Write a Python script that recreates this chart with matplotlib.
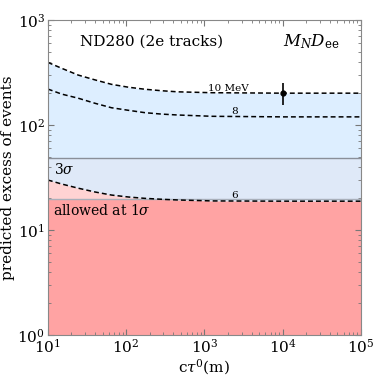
import numpy as np
import matplotlib.pyplot as plt

plt.rcParams['font.family'] = 'DejaVu Serif'
plt.rcParams['mathtext.fontset'] = 'dejavuserif'

# c tau^0 in m
ctau = [10, 15, 24.4, 40, 65, 107, 174, 284, 457, 1260, 1e4, 1e5]
# predicted excess for M_N = 10, 8, 6 MeV
n10 = [395, 347, 299, 269, 244, 229, 219, 212, 207, 203, 201, 201]
n8 = [220, 197, 180, 161, 146, 138, 131, 127, 124.5, 121, 119.5, 119.5]
n6 = [29.9, 27.4, 25, 23, 21.5, 20.6, 20, 19.6, 19.3, 18.9, 18.8, 18.8]

sig1 = 19.8
sig3 = 48.5

# data point with error
pt_x = 1e4
pt_y = 200
pt_lo = 155
pt_hi = 250

fig = plt.figure(figsize=(3.74, 3.78), dpi=100)
ax = fig.add_axes([0.128, 0.114, 0.837, 0.833])

x = np.array(ctau)
c10 = np.array(n10)
c8 = np.array(n8)
c6 = np.array(n6)

ax.fill_between(x, c6, c10, color='#ddeeff', lw=0)
ax.fill_between(x, c6, sig3, color='#dfe9f8', lw=0)
ax.fill_between(x, 1, np.minimum(c6, sig1), color='#ffa3a3', lw=0)
ax.fill_between(x, sig1, c6, where=c6 > sig1, color='#ffd3d3', lw=0, interpolate=True)

ax.axhline(sig3, color='#8a8f99', lw=1)
ax.axhline(sig1, color='#a9b0bb', lw=1)

for c in (c10, c8, c6):
    ax.plot(x, c, color='k', ls=(0, (3.2, 2)), lw=1.1)

ax.errorbar([pt_x], [pt_y], yerr=[[pt_y - pt_lo], [pt_hi - pt_y]], fmt='o',
            color='k', ms=3.5, lw=1.2, capsize=0)

ax.text(2000, 203, '10 MeV', fontsize=7.5, ha='center', va='bottom')
ax.text(2450, 121, '8', fontsize=7.5, ha='center', va='bottom')
ax.text(2450, 19.3, '6', fontsize=7.5, ha='center', va='bottom')
ax.text(12, 44, r'$3\sigma$', fontsize=10, ha='left', va='top')
ax.text(11.5, 18.2, r'allowed at $1\sigma$', fontsize=10, ha='left', va='top')
ax.text(0.33, 0.93, 'ND280 (2e tracks)', transform=ax.transAxes, fontsize=11,
        ha='center', va='center')
ax.text(0.84, 0.93, r'$M_N D_{\rm ee}$', transform=ax.transAxes, fontsize=12,
        ha='center', va='center')

ax.set_xscale('log')
ax.set_yscale('log')
ax.set_xlim(10, 1e5)
ax.set_ylim(1, 1000)
ax.set_xlabel(r'c$\tau^0$(m)', fontsize=11, labelpad=1)
ax.set_ylabel('predicted excess of events', fontsize=11, labelpad=2)
ax.tick_params(which='both', direction='in', top=True, right=True, color='#777777')
ax.tick_params(which='major', length=4, labelsize=11, pad=2)
ax.tick_params(which='minor', length=2)
for s in ax.spines.values():
    s.set_color('#888888')

plt.savefig('out.png', dpi=100)
